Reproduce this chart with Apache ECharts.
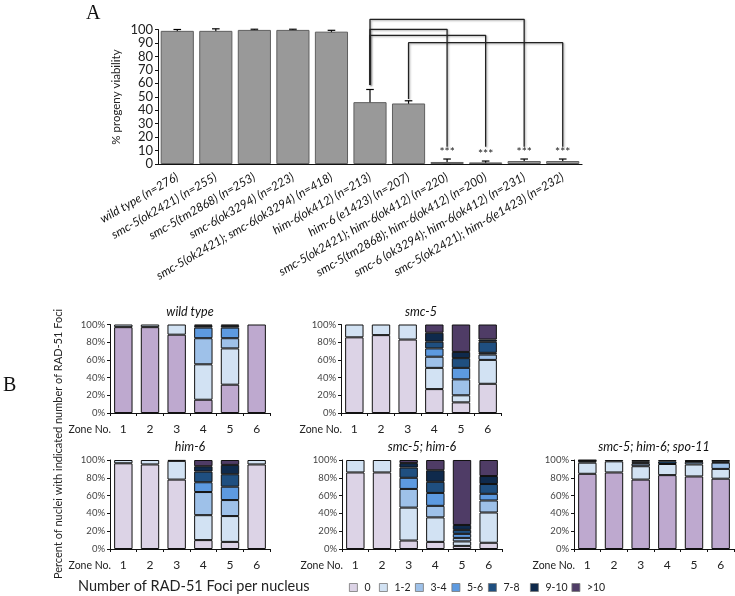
<!DOCTYPE html>
<html><head><meta charset="utf-8">
<script src="https://cdn.jsdelivr.net/npm/echarts@6/dist/echarts.min.js"></script>
<style>html,body{margin:0;padding:0;background:#fff}#c{width:735px;height:596px}</style>
</head><body><div id="c"></div>
<script>
// ---------- Panel A data ----------
const strains = [
  'wild type (n=276)', 'smc-5(ok2421) (n=255)', 'smc-5(tm2868) (n=253)', 'smc-6(ok3294) (n=223)',
  'smc-5(ok2421); smc-6(ok3294) (n=418)', 'him-6(ok412) (n=213)', 'him-6 (e1423) (n=207)',
  'smc-5(ok2421); him-6(ok412) (n=220)', 'smc-5(tm2868); him-6(ok412) (n=200)',
  'smc-6 (ok3294); him-6(ok412) (n=231)', 'smc-5(ok2421); him-6(e1423) (n=232)'
];
const viability = [99, 99, 99.7, 99.7, 98.4, 46, 45, 1.5, 1.2, 2.2, 2.2];
const viabilityErr = [1, 1.5, 0.5, 0.5, 1, 9.4, 2, 2.2, 1, 1.5, 1.5];
const significance = ['', '', '', '', '', '', '', '***', '***', '***', '***'];
const viabilityTicks = [0, 10, 20, 30, 40, 50, 60, 70, 80, 90, 100];
// comparison brackets (category index / value units)
const bracketFrom = [5, 5, 5, 6];
const bracketTo = [9, 7, 8, 10];
const bracketStartY = [58.7, 58.7, 58.7, 48.3];
const bracketTopY = [107.6, 100.1, 95.7, 90.2];
const bracketEndY = [12.9, 12.9, 12.9, 12.9];

// ---------- Panel B data (rows = foci class, columns = zone 1..6) ----------
const zones = ['1', '2', '3', '4', '5', '6'];
const fociClasses = ['0', '1-2', '3-4', '5-6', '7-8', '9-10', '>10'];
const percentTicks = [0, 20, 40, 60, 80, 100];
const wildTypeFoci = [
  [97, 97, 88.5, 15, 32, 100],
  [3, 3, 11.5, 40, 41, 0],
  [0, 0, 0, 29.5, 11.5, 0],
  [0, 0, 0, 12, 12, 0],
  [0, 0, 0, 2, 2, 0],
  [0, 0, 0, 1.5, 1.5, 0],
  [0, 0, 0, 0, 0, 0]
];
const smc5Foci = [
  [85.5, 88, 83, 27, 12, 33],
  [14.5, 12, 17, 24, 8, 27],
  [0, 0, 0, 12.6, 18, 6],
  [0, 0, 0, 9.4, 13, 2],
  [0, 0, 0, 7.6, 11, 12.5],
  [0, 0, 0, 10.1, 7, 2.5],
  [0, 0, 0, 9.3, 31, 17]
];
const him6Foci = [
  [96.3, 95, 78, 10, 8, 95],
  [3.7, 5, 21, 28, 29, 5],
  [0, 0, 0, 26, 18, 0],
  [0, 0, 0, 11, 15, 0],
  [0, 0, 0, 12, 14, 0],
  [0, 0, 1, 6, 10.5, 0],
  [0, 0, 0, 7, 5.5, 0]
];
const smc5him6Foci = [
  [86, 86, 9.5, 8, 3.5, 7],
  [14, 14, 37, 27.5, 5, 34],
  [0, 0, 21, 13, 4, 13.5],
  [0, 0, 12.5, 14.5, 4.5, 7.5],
  [0, 0, 11.5, 12.5, 4.5, 11],
  [0, 0, 5, 13, 5.5, 9],
  [0, 0, 3.5, 11.5, 73, 18]
];
const spo11Foci = [
  [84.5, 86, 78, 83, 81.5, 79],
  [12.5, 12.5, 15, 12.5, 13.5, 11],
  [2, 0, 3, 0, 3, 7],
  [0.5, 0, 1, 0, 0, 0],
  [0.5, 0, 1.5, 3, 0.5, 1],
  [0, 1.5, 1.5, 1.5, 1.5, 2],
  [0, 0, 0, 0, 0, 0]
];
const panelTitles = ['wild type', 'smc-5', 'him-6', 'smc-5; him-6', 'smc-5; him-6; spo-11'];

// ---------- styling ----------
const FONT = 'Lato, "Open Sans", sans-serif';
const fociColors = ['#dcd3e6', '#d2e2f3', '#9ec1e9', '#5d9ae0', '#1f4f80', '#0f2a4c', '#4f3c66'];
const darkZeroColor = '#bea9cf';
const legendLeft = [349, 379, 415, 451.5, 488, 530, 571.5];
const panels = [
  {data: wildTypeFoci, grid: {left: 110, top: 324.5, width: 160, height: 88.5}, zero: darkZeroColor},
  {data: smc5Foci, grid: {left: 341, top: 324.5, width: 160, height: 88.5}, zero: fociColors[0]},
  {data: him6Foci, grid: {left: 110, top: 460, width: 160, height: 89}, zero: fociColors[0]},
  {data: smc5him6Foci, grid: {left: 342, top: 460, width: 160, height: 89}, zero: fociColors[0]},
  {data: spo11Foci, grid: {left: 574, top: 460, width: 160, height: 89}, zero: darkZeroColor}
];

const grids = [{left: 158, top: 29.5, width: 424, height: 134.5}].concat(panels.map(p => p.grid));
const xAxes = [{
  type: 'category', gridIndex: 0, data: strains,
  axisLine: {lineStyle: {color: '#111', width: 1.2}},
  axisTick: {show: false},
  axisLabel: {rotate: 30, margin: 12, fontFamily: FONT, fontStyle: 'italic', fontSize: 12, color: '#111', interval: 0}
}];
const yAxes = [{
  type: 'value', gridIndex: 0, min: viabilityTicks[0], max: viabilityTicks[viabilityTicks.length - 1], interval: 10,
  axisLine: {show: true, lineStyle: {color: '#111', width: 1}},
  axisTick: {show: true, length: 3, lineStyle: {color: '#111'}},
  splitLine: {show: false},
  axisLabel: {fontFamily: FONT, fontSize: 13, color: '#222', margin: 5}
}];
panels.forEach((p, i) => {
  xAxes.push({
    type: 'category', gridIndex: i + 1, data: zones,
    axisLine: {lineStyle: {color: '#111', width: 1}},
    axisTick: {show: true, length: 3, lineStyle: {color: '#111'}},
    axisLabel: {fontFamily: FONT, fontSize: 12, color: '#222', margin: 10}
  });
  yAxes.push({
    type: 'value', gridIndex: i + 1, min: percentTicks[0], max: percentTicks[percentTicks.length - 1], interval: 20,
    axisLine: {show: true, lineStyle: {color: '#111', width: 1}},
    axisTick: {show: true, length: 3, lineStyle: {color: '#111'}},
    splitLine: {show: false},
    axisLabel: {formatter: '{value}%', fontFamily: FONT, fontSize: 9.5, color: '#444', margin: 5}
  });
});

const series = [{
  type: 'bar', name: 'viability', xAxisIndex: 0, yAxisIndex: 0, data: viability,
  barCategoryGap: '14%',
  itemStyle: {color: '#999999', borderColor: '#5f5f5f', borderWidth: 1},
  silent: true
}, {
  type: 'custom', xAxisIndex: 0, yAxisIndex: 0, silent: true,
  data: viability.map((v, i) => [i, Math.max(0, v - viabilityErr[i]), v + viabilityErr[i]]),
  renderItem(params, api) {
    const x = api.value(0);
    const lo = api.coord([x, api.value(1)]);
    const hi = api.coord([x, api.value(2)]);
    const hw = 3.8;
    const st = {stroke: '#000', lineWidth: 1.2};
    const ch = [
      {type: 'line', shape: {x1: lo[0], y1: lo[1], x2: hi[0], y2: hi[1]}, style: st},
      {type: 'line', shape: {x1: hi[0] - hw, y1: hi[1], x2: hi[0] + hw, y2: hi[1]}, style: st},
      {type: 'line', shape: {x1: lo[0] - hw, y1: lo[1], x2: lo[0] + hw, y2: lo[1]}, style: st}
    ];
    const lab = significance[params.dataIndex];
    if (lab) ch.push({type: 'text', style: {text: lab, x: hi[0], y: hi[1] - 7, align: 'center', verticalAlign: 'middle', fontSize: 12, fontFamily: FONT, fill: '#222'}});
    return {type: 'group', children: ch};
  }
}];
bracketFrom.forEach((f, k) => {
  series.push({
    type: 'line', xAxisIndex: 0, yAxisIndex: 0, clip: false, silent: true, symbol: 'none',
    data: [[f, bracketStartY[k]], [f, bracketTopY[k]], [bracketTo[k], bracketTopY[k]], [bracketTo[k], bracketEndY[k]]],
    lineStyle: {color: '#222', width: 1.3, shadowColor: 'rgba(0,0,0,0.35)', shadowBlur: 2, shadowOffsetX: 1, shadowOffsetY: 1},
    z: 5
  });
});
panels.forEach((p, i) => {
  fociClasses.forEach((cls, c) => {
    series.push({
      type: 'bar', name: cls, xAxisIndex: i + 1, yAxisIndex: i + 1, stack: 'p' + i,
      barCategoryGap: '31%',
      data: p.data[c].map(v => v === 0 ? '-' : v),
      itemStyle: {color: c === 0 ? p.zero : fociColors[c], borderColor: '#111', borderWidth: 1},
      silent: true
    });
  });
});

const graphics = [
  {type: 'text', x: 86, y: 4, style: {text: 'A', fontFamily: '"Liberation Serif", serif', fontSize: 20, fill: '#111'}},
  {type: 'text', x: 3, y: 376, style: {text: 'B', fontFamily: '"Liberation Serif", serif', fontSize: 20, fill: '#111'}},
  {type: 'text', x: 116, y: 97, rotation: Math.PI / 2, style: {text: '% progeny viability', align: 'center', verticalAlign: 'middle', fontFamily: FONT, fontSize: 11.5, fill: '#222'}},
  {type: 'text', x: 58, y: 444, rotation: Math.PI / 2, style: {text: 'Percent of nuclei with indicated number of RAD-51 Foci', align: 'center', verticalAlign: 'middle', fontFamily: FONT, fontSize: 11, fill: '#222'}},
  {type: 'text', x: 78, y: 586, style: {text: 'Number of RAD-51 Foci per nucleus', verticalAlign: 'middle', fontFamily: FONT, fontSize: 14.5, fill: '#222'}}
];
panels.forEach((p, i) => {
  graphics.push({type: 'text', x: p.grid.left + p.grid.width / 2, y: p.grid.top - 13, style: {text: panelTitles[i], align: 'center', verticalAlign: 'middle', fontFamily: FONT, fontStyle: 'italic', fontSize: 12.5, fill: '#111'}});
  graphics.push({type: 'text', x: p.grid.left + 1, y: p.grid.top + p.grid.height + 17, style: {text: 'Zone No.', align: 'right', verticalAlign: 'middle', fontFamily: FONT, fontSize: 10.5, fill: '#222'}});
});

const legends = fociClasses.map((c, k) => ({
  left: legendLeft[k], top: 582, itemWidth: 8, itemHeight: 8, icon: 'rect', selectedMode: false, padding: 0,
  textStyle: {fontFamily: FONT, fontSize: 10.5, color: '#222', padding: [0, 0, 0, 2]},
  data: [{name: c, itemStyle: {color: fociColors[k], borderColor: '#777', borderWidth: 0.8}}]
}));

const chart = echarts.init(document.getElementById('c'), null, {renderer: 'canvas'});
chart.setOption({
  animation: false,
  backgroundColor: '#fff',
  grid: grids,
  xAxis: xAxes,
  yAxis: yAxes,
  series: series,
  graphic: graphics,
  legend: legends
});
</script></body></html>
